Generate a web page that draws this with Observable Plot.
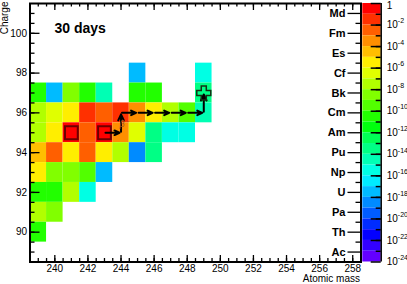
<!DOCTYPE html>
<html><head><meta charset="utf-8">
<script src="https://cdn.jsdelivr.net/npm/d3@7"></script>
<script src="https://cdn.jsdelivr.net/npm/@observablehq/plot@0.6"></script>
<style>
body{margin:0;background:#fff}
#wrap{position:relative;width:407px;height:284px;background:#fff}
#wrap svg{position:absolute;left:0;top:0;overflow:visible}
</style></head><body><div id="wrap"></div>
<script>
// ---- data ----
const masses  = [245,249, 239,240,241,242,243,245,246,249, 239,240,241,242,243,244,245,246,247,248,249, 239,240,241,242,243,244,245,246,247,248, 239,240,241,242,243,244,245,246, 239,240,241,242,243, 239,240,241,242, 239,240, 239];
const charges = [98,98, 97,97,97,97,97,97,97,97, 96,96,96,96,96,96,96,96,96,96,96, 95,95,95,95,95,95,95,95,95,95, 94,94,94,94,94,94,94,94, 93,93,93,93,93, 92,92,92,92, 91,91, 90];
const log10Yield = [-17.5,-15.5, -10.5,-17.5,-8.5,-10.5,-14.5,-10.5,-10.5,-13.5,
  -7.5,-6.5,-5.5,-1.5,-2.5,-1.5,-3.5,-5.5,-7.5,-9.5,-14.5,
  -7.5,-5.5,-0.5,-2.5,-0.5,-3.5,-6.5,-13.5,-15.5,-15.5,
  -4.5,-2.5,-5.5,-2.5,-5.5,-7.5,-18.5,-13.5,
  -5.5,-8.5,-8.5,-9.5,-17.5,
  -10.5,-10.5,-7.5,-15.5,
  -7.5,-8.5,
  -10.5];
const elementZ = [89,90,91,92,93,94,95,96,97,98,99,100,101];
const elementNames = ["Ac","Th","Pa","U","Np","Pu","Am","Cm","Bk","Cf","Es","Fm","Md"];
const xTickValues = [240,242,244,246,248,250,252,254,256,258];
const yTickValues = [90,92,94,96,98,100];
const colorbarLabelExponents = [0,-2,-4,-6,-8,-10,-12,-14,-16,-18,-20,-22,-24];
const pathMass   = [243,244,244,245,246,247,248,249,249];
const pathCharge = [95,95,96,96,96,96,96,96,97];
const squareMass = [241,243], squareCharge = [95,95];
const crossMass = [249], crossCharge = [97];
const annotationText = ["β⁻"], annotationMass = [244.15], annotationCharge = [95.45];
const titleText = "30 days";

// ---- scales / styling (ROOT "pretty" palette, 24 contour levels) ----
const thresholds = d3.range(-23, 0);
const paletteColors = d3.range(24).map(i => {
  const idx = Math.floor(0.01 + (i + 0.99) * 50 / 24);
  return d3.hsl(280 - (idx + 1) * 5.6, 1, 0.5).formatHex();
});
const colorScale = {type: "threshold", domain: thresholds, range: paletteColors};
const fontFamily = "'Liberation Sans', Arial, Helvetica, sans-serif";
const W = 407, H = 284, mL = 29.5, mR = 46.5, mT = 3, mB = 22.5;
const frameW = W - mL - mR, frameH = H - mT - mB;

const cells = masses.map((m, i) => ({mass: m, charge: charges[i], L: log10Yield[i]}));
const segments = pathMass.slice(1).map((m, i) => ({x1: pathMass[i], y1: pathCharge[i], x2: m, y2: pathCharge[i + 1]}));
const xMinor = d3.range(239, 258.01, 0.5), xMajor = d3.range(240, 259, 2);
const yMinor = d3.range(89, 101.01, 0.5), yMajor = d3.range(90, 101, 2);
const zMinor = d3.range(89.5, 101.01, 1);

const crossSymbol = {draw(ctx, size) {
  const r = Math.sqrt(size / Math.PI), a = r * 0.36;
  ctx.moveTo(-a, -r); ctx.lineTo(a, -r); ctx.lineTo(a, -a); ctx.lineTo(r, -a); ctx.lineTo(r, a);
  ctx.lineTo(a, a); ctx.lineTo(a, r); ctx.lineTo(-a, r); ctx.lineTo(-a, a); ctx.lineTo(-r, a);
  ctx.lineTo(-r, -a); ctx.lineTo(-a, -a); ctx.closePath();
}};

const main = Plot.plot({
  width: W, height: H, marginLeft: mL, marginRight: mR, marginTop: mT, marginBottom: mB,
  style: {fontFamily, fontSize: "10px", background: "transparent", color: "black"},
  x: {domain: [238.5, 258.5]},
  y: {domain: [88.5, 101.5]},
  color: colorScale,
  marks: [
    Plot.rect(cells, {x1: d => d.mass - 0.5, x2: d => d.mass + 0.5, y1: d => d.charge - 0.5, y2: d => d.charge + 0.5, fill: "L"}),
    Plot.dot(squareMass, {x: d => d, y: (d, i) => squareCharge[i], symbol: "square", r: 7.2, stroke: "#6b0000", strokeWidth: 2, fill: "none"}),
    Plot.arrow(segments, {x1: "x1", y1: "y1", x2: "x2", y2: "y2", stroke: "black", strokeWidth: 2, headLength: 6, headAngle: 50, insetStart: 1, insetEnd: 1.5}),
    Plot.dot(crossMass, {x: d => d, y: (d, i) => crossCharge[i], symbol: crossSymbol, r: 7, stroke: "#143014", strokeWidth: 1.5, fill: "none"}),
    Plot.text(annotationText, {x: (d, i) => annotationMass[i], y: (d, i) => annotationCharge[i], text: d => d, fontSize: 9, fontStyle: "italic", fill: "#a85a20", textAnchor: "middle"}),
    Plot.text([titleText], {frameAnchor: "top-left", dx: 24.5, dy: 19.5, text: d => d, fontSize: 14, fontWeight: "bold", textAnchor: "start", lineAnchor: "top"}),
    // inside ticks
    Plot.tickX(xMinor, {x: d => d, insetTop: frameH - 3.5, strokeWidth: 1.3}),
    Plot.tickX(xMajor, {x: d => d, insetTop: frameH - 6.5, strokeWidth: 1.3}),
    Plot.tickX(xMinor, {x: d => d, insetBottom: frameH - 3.5, strokeWidth: 1.3}),
    Plot.tickX(xMajor, {x: d => d, insetBottom: frameH - 7, strokeWidth: 1.3}),
    Plot.tickY(yMinor, {y: d => d, insetRight: frameW - 5, strokeWidth: 1.3}),
    Plot.tickY(yMajor, {y: d => d, insetRight: frameW - 10, strokeWidth: 1.3}),
    Plot.tickY(zMinor, {y: d => d, insetLeft: frameW - 5, strokeWidth: 1.3}),
    Plot.tickY(elementZ, {y: d => d, insetLeft: frameW - 13, strokeWidth: 1.3}),
    Plot.frame({stroke: "black", strokeWidth: 2}),
    Plot.axisX(xTickValues, {anchor: "bottom", tickSize: 0, tickPadding: 3, label: null, fontSize: 10}),
    Plot.axisY(yTickValues, {anchor: "left", tickSize: 0, tickPadding: 3, label: null, fontSize: 10}),
    Plot.text(elementZ, {y: d => d, frameAnchor: "right", dx: -15.5, text: (d, i) => elementNames[i], textAnchor: "end", fontWeight: "bold", fontSize: 11}),
    Plot.text(["Charge"], {frameAnchor: "top-left", dx: -25.5, dy: -2, rotate: -90, text: d => d, textAnchor: "end", lineAnchor: "middle", fontSize: 10}),
    Plot.text(["Atomic mass"], {frameAnchor: "bottom-right", dx: -1, dy: 16.5, text: d => d, textAnchor: "end", lineAnchor: "middle", fontSize: 10})
  ]
});

// ---- colour bar ----
const bands = d3.range(24).map(k => ({hi: -k, lo: -k - 1, L: -k - 0.5}));
const cbMinor = d3.range(-23, -0.9, 1);
const cbPowers = colorbarLabelExponents.filter(d => d < 0);
const cbUnit = colorbarLabelExponents.filter(d => d === 0);
const cb = Plot.plot({
  width: W, height: H, marginLeft: 362.3, marginRight: 26.3, marginTop: 3, marginBottom: 22.5,
  style: {fontFamily, fontSize: "10px", background: "transparent", color: "black"},
  x: {domain: [0, 1], axis: null},
  y: {domain: [-24, 0], axis: null},
  color: colorScale,
  marks: [
    Plot.rect(bands, {x1: 0, x2: 1, y1: "lo", y2: "hi", fill: "L"}),
    Plot.ruleX([1], {strokeWidth: 1.5}),
    Plot.tickY(cbMinor, {y: d => d, insetLeft: 18.4 - 5, strokeWidth: 1.5}),
    Plot.tickY(colorbarLabelExponents, {y: d => d, insetLeft: 18.4 - 10, strokeWidth: 1.5}),
    Plot.text(cbUnit, {x: 1, y: d => d, text: () => "1", dx: 5.5, dy: 2.5, textAnchor: "start", fontSize: 10}),
    Plot.text(cbPowers, {x: 1, y: d => d, text: () => "10", dx: 5.5, textAnchor: "start", fontSize: 10}),
    Plot.text(cbPowers, {x: 1, y: d => d, text: d => "-" + String(-d), dx: 16.6, dy: -4, textAnchor: "start", fontSize: 7})
  ]
});

const wrap = document.getElementById("wrap");
wrap.append(main, cb);
</script></body></html>
